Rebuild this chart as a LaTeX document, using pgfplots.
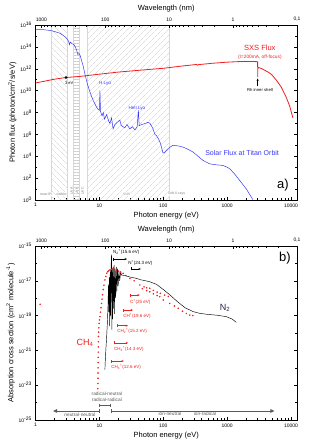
\documentclass[border=0pt]{standalone}
\usepackage{pgfplots}
\pgfplotsset{compat=1.18}
\usepackage{fontspec}
\setmainfont{Liberation Sans}
\usetikzlibrary{patterns.meta,arrows.meta}
\definecolor{sxsred}{RGB}{240,30,30}
\definecolor{solblue}{RGB}{55,55,245}
\definecolor{hatch}{RGB}{205,205,205}
\definecolor{bandline}{RGB}{215,215,215}
\definecolor{nnavy}{RGB}{30,35,80}
\definecolor{arrgray}{RGB}{90,90,90}
\newcommand{\fs}[1]{\fontsize{#1}{#1}\selectfont}
\begin{document}
\begin{tikzpicture}
\useasboundingbox (0pt,0pt) rectangle (313pt,445pt);
% ================= panel a =================
\begin{axis}[scale only axis, width=261.5pt, height=175pt, at={(35.5pt,245pt)}, anchor=south west,
    xmode=log, ymode=log, xmin=1, xmax=12398.4, ymin=1, ymax=1e16,
    xtick={1,10,100,1000,10000}, xticklabels={1,10,100,1000,10000},
    minor xtick={2,3,4,5,6,7,8,9,20,30,40,50,60,70,80,90,200,300,400,500,600,700,800,900,2000,3000,4000,5000,6000,7000,8000,9000},
    xtick pos=left, tick align=inside,
    major tick length=3pt, minor tick length=1.6pt,
    tick label style={font=\fs{5}}, label style={font=\fs{7.5}},
    xlabel={Photon energy (eV)}, xlabel style={yshift=2pt},
    axis line style={line width=0.7pt},
    every tick/.style={black, line width=0.5pt},
  ytick={1,1e2,1e4,1e6,1e8,1e10,1e12,1e14,1e16},
  yticklabels={10\textsuperscript{0},10\textsuperscript{2},10\textsuperscript{4},10\textsuperscript{6},10\textsuperscript{8},10\textsuperscript{10},10\textsuperscript{12},10\textsuperscript{14},10\textsuperscript{16}},
  minor ytick={1e1,1e3,1e5,1e7,1e9,1e11,1e13,1e15},
  ylabel={Photon flux (photon/cm\textsuperscript{2}/s/eV)},
  ylabel style={yshift=-3pt}]
% spectral bands
\addplot[draw=none, pattern={Lines[angle=-45,distance=4pt,line width=0.4pt]}, pattern color=hatch] coordinates {(1.7712,1) (1.7712,1e16) (3.0996,1e16) (3.0996,1)} -- cycle;
\addplot[draw=none, pattern={Lines[angle=0,distance=3pt,line width=0.4pt]}, pattern color=hatch] coordinates {(3.94,1) (3.94,1e16) (4.77,1e16) (4.77,1)} -- cycle;
\addplot[draw=none, pattern={Lines[angle=45,distance=4pt,line width=0.4pt]}, pattern color=hatch] coordinates {(6.53,1) (6.53,1e16) (124,1e16) (124,1)} -- cycle;
\addplot[bandline, line width=0.4pt] coordinates {(1.7712,1) (1.7712,1e16)};
\addplot[bandline, line width=0.4pt] coordinates {(3.0996,1) (3.0996,1e16)};
\addplot[bandline, line width=0.4pt] coordinates {(3.94,1) (3.94,1e16)};
\addplot[bandline, line width=0.4pt] coordinates {(4.77,1) (4.77,1e16)};
\addplot[bandline, line width=0.4pt] coordinates {(6.53,1) (6.53,1e16)};
\addplot[bandline, line width=0.4pt] coordinates {(124,1) (124,1e16)};
% solar flux at Titan orbit
\addplot[solblue, line width=0.5pt] coordinates {
(1,3.98e15) (1.3,3.8e15) (1.7,3.16e15) (2.0,2.51e15) (2.4,1.78e15) (2.8,1e15)
(3.1,5.6e14) (3.3,3.2e14) (3.4,1.6e14) (3.5,2.8e14) (3.7,2e14) (4.0,1.6e14)
(4.2,1e14) (4.4,5e13) (4.6,2e13) (4.8,2.5e13) (5.0,1.6e13) (5.3,5e12)
(5.6,1.6e12) (6.0,2.5e11) (6.5,4e10) (7.0,1e10) (7.5,3.2e9) (8.0,1.26e9)
(8.5,6.3e8) (9.0,3.2e8) (9.5,2e8) (10.0,1.6e8) (10.2,1e10) (10.4,1.26e8)
(11,5e7) (11.5,1e8) (12,2.5e7) (13,6.3e7) (14,1.6e7) (14.6,1e7)
(15.5,3.2e7) (16.4,3.2e6) (17.5,7.9e6) (19,1.26e7) (20.9,2e7) (22,6.3e6)
(25,4e6) (27,7.9e6) (30,3.2e6) (33,5e6) (36,2.5e6) (39,5e6)
(40.8,1.6e8) (42,6.3e6) (46,7.9e6) (52,1e7) (58,1.26e7) (62,1e7)
(68,4e6) (74,1e6) (78,7.9e5) (84,4e5) (90,1.6e5) (99,2e4)
(105,2.2e4) (112,3.5e4) (125,6.3e4) (142,1e5) (170,8.9e4) (204,6.9e4)
(250,4e4) (293,2.4e4) (350,1e4) (418,4.2e3) (535,2e3) (700,1.6e3)
(855,1.45e3) (1000,1e3) (1100,7.2e2) (1300,2.5e2) (1567,63) (2000,10) (2520,1.1)};
% SXS flux
\addplot[sxsred, line width=0.8pt] coordinates {
(1,5e10) (1.5,8e10) (2,1.12e11) (3,1.58e11) (5,2e11) (10,3.2e11) (20,5e11)
(50,7.9e11) (100,1.1e12) (200,1.8e12) (300,2.3e12) (330,2.5e12) (345,2.1e12)
(360,2.4e12) (600,3.2e12) (1000,4.0e12) (1500,4.5e12) (2000,4.6e12)
(2800,4.5e12) (3000,4.4e12) (3004,1.8e11) (3010,1.0e12) (3100,1.3e12)
(3500,1.0e12) (3900,7.1e11) (4500,4.5e11) (5000,2.8e11) (5900,8.9e10)
(7000,2.2e10) (8400,2.5e9) (9500,4e8) (10700,3.2e7)};
\addplot[only marks, mark=*, mark size=1.1pt, black] coordinates {(3,1.58e11)};
\node[font=\fs{4}] at (rel axis cs:0.129,0.670) {3 eV};
\draw[-{Stealth[length=2.5pt,width=2pt]}, black, line width=0.4pt] (axis cs:3004,2.5e10) -- (axis cs:3004,1.3e11);
\node[font=\fs{4.2}] at (rel axis cs:0.858,0.629) {Rh inner shell};
\node[font=\fs{7.5}, text=sxsred] at (rel axis cs:0.858,0.869) {SXS Flux};
\node[font=\fs{4.8}, text=sxsred] at (rel axis cs:0.858,0.817) {(I=200mA, off-focus)};
\node[font=\fs{7}, text=solblue] at (rel axis cs:0.790,0.269) {Solar Flux at Titan Orbit};
\node[font=\fs{4.5}, text=solblue] at (rel axis cs:0.266,0.669) {H Lyα};
\node[font=\fs{4.5}, text=solblue] at (rel axis cs:0.388,0.526) {HeII Lyα};
\node[font=\fs{13}] at (rel axis cs:0.946,0.086) {a)};
\node[font=\fs{3.5}, text=gray, fill=white, inner sep=0.5pt] at (rel axis cs:0.040,0.034) {near-IR};
\node[font=\fs{3.5}, text=gray, fill=white, inner sep=0.5pt] at (rel axis cs:0.098,0.034) {visible};
\node[font=\fs{3.5}, text=gray, rotate=90, fill=white, inner sep=0.3pt] at (rel axis cs:0.138,0.051) {UVA};
\node[font=\fs{3.5}, text=gray, rotate=90, fill=white, inner sep=0.3pt] at (rel axis cs:0.158,0.051) {UVB};
\node[font=\fs{3.5}, text=gray, rotate=90, fill=white, inner sep=0.3pt] at (rel axis cs:0.180,0.051) {UVC};
\node[font=\fs{3.5}, text=gray, fill=white, inner sep=0.5pt] at (rel axis cs:0.349,0.034) {VUV};
\node[font=\fs{3.5}, text=gray, fill=white, inner sep=0.5pt] at (rel axis cs:0.540,0.034) {soft X-rays};
\end{axis}
\begin{axis}[scale only axis, width=261.5pt, height=175pt, at={(35.5pt,245pt)}, anchor=south west,
    xmode=log, ymode=log, xmin=1, xmax=12398.4, ymin=1, ymax=10,
    axis x line*=top, axis y line=none, axis line style={-, line width=0.7pt},
    tick align=inside, major tick length=3pt, minor tick length=1.6pt,
    every tick/.style={black, line width=0.5pt},
    xtick={1.23984,12.3984,123.984,1239.84,12398.4},
    xticklabels={1000,100,10,1,{0,1}},
    minor xtick={1.3776,1.5498,1.7712,2.0664,2.4797,3.0996,4.1328,6.1992,13.776,15.498,17.712,20.664,24.797,30.996,41.328,61.992,137.76,154.98,177.12,206.64,247.97,309.96,413.28,619.92,1377.6,1549.8,1771.2,2066.4,2479.7,3099.6,4132.8,6199.2},
    tick label style={font=\fs{5}}, label style={font=\fs{7.5}},
    xlabel={Wavelength (nm)}, xlabel style={yshift=-2pt}]
\addplot[draw=none] coordinates {(2,2)};
\end{axis}
% ================= panel b =================
\begin{axis}[scale only axis, width=261.5pt, height=174pt, at={(35.5pt,25pt)}, anchor=south west,
    xmode=log, ymode=log, xmin=1, xmax=12398.4, ymin=1e-25, ymax=1e-15,
    xtick={1,10,100,1000,10000}, xticklabels={1,10,100,1000,10000},
    minor xtick={2,3,4,5,6,7,8,9,20,30,40,50,60,70,80,90,200,300,400,500,600,700,800,900,2000,3000,4000,5000,6000,7000,8000,9000},
    xtick pos=left, tick align=inside,
    major tick length=3pt, minor tick length=1.6pt,
    tick label style={font=\fs{5}}, label style={font=\fs{7.5}},
    xlabel={Photon energy (eV)}, xlabel style={yshift=2pt},
    axis line style={line width=0.7pt},
    every tick/.style={black, line width=0.5pt},
  ytick={1e-25,1e-23,1e-21,1e-19,1e-17,1e-15},
  yticklabels={10\textsuperscript{-25},10\textsuperscript{-23},10\textsuperscript{-21},10\textsuperscript{-19},10\textsuperscript{-17},10\textsuperscript{-15}},
  minor ytick={1e-24,1e-22,1e-20,1e-18,1e-16},
  ylabel={Absorption cross section (cm\textsuperscript{2} molecule\textsuperscript{-1})},
  ylabel style={yshift=-3pt}]
% N2
\addplot[black, line width=0.45pt] coordinates {
(12.2,7.94e-23) (12.4,3.16e-22) (12.7,1.58e-21) (13.0,6.31e-21) (13.3,3.16e-20)
(13.6,2.51e-19) (13.9,6.31e-18) (14.1,1.58e-19) (14.3,1.58e-17) (14.5,2.51e-20)
(14.8,3.98e-17) (15.0,1e-19) (15.3,1e-16) (15.5,3.16e-16) (15.7,1.58e-20)
(15.9,5.01e-17) (16.1,6.31e-20) (16.4,6.31e-17) (16.7,2.51e-19) (17.0,7.94e-17)
(17.3,1.26e-19) (17.6,5.01e-17) (18.0,1e-18) (18.4,6.31e-17) (18.8,2.51e-18)
(19.2,5.01e-17) (19.7,5.01e-18) (20.2,3.98e-17) (20.8,1e-17) (21.5,3.16e-17)
(22.2,2.14e-17) (25,2.0e-17) (30,1.66e-17) (38,1.38e-17) (44,1.15e-17) (50,1.05e-17)
(61,8.9e-18) (78,6.31e-18) (100,3.16e-18) (126,1.58e-18) (150,8.9e-19)
(180,5.01e-19) (220,2.82e-19) (293,1.7e-19) (372,1.35e-19) (500,1.17e-19)
(700,1.05e-19) (970,8.7e-20) (1200,6.31e-20) (1390,4.07e-20)};
% CH4
\addplot[only marks, mark=*, mark size=0.55pt, sxsred] coordinates {
(1.18,4.47e-19)
(9.45,6.31e-24) (9.48,1.26e-23) (9.5,2.51e-23) (9.52,5.01e-23) (9.54,1e-22)
(9.56,2e-22) (9.58,3.98e-22) (9.6,7.94e-22) (9.62,1.58e-21) (9.65,3.16e-21)
(9.68,6.31e-21) (9.72,1.12e-20) (9.8,2e-20) (9.9,3.55e-20) (10.0,5.62e-20)
(10.2,8.7e-20) (10.4,1.58e-19) (10.6,2.82e-19) (10.8,5.01e-19) (11.0,8.9e-19)
(11.2,1.58e-18) (11.5,3.16e-18) (11.8,5.62e-18) (12.2,1.12e-17) (12.6,1.78e-17)
(13.0,2.69e-17) (13.5,3.31e-17) (14.0,3.8e-17) (14.6,4.17e-17) (15.3,4.47e-17)
(16.0,4.68e-17) (17.0,4.47e-17) (18.6,4.17e-17) (20.0,3.55e-17) (21.5,3.16e-17)
(23.5,2.69e-17) (26,2e-17) (30,1.38e-17) (35,1e-17) (43,5.75e-18)
(50,4.47e-18) (55,3.98e-18) (61.5,3.72e-18) (70,2.82e-18) (80,2.24e-18)
(90,1.9e-18) (105,1.51e-18) (120,1.26e-18)
(47,3.5e-18) (55,2.7e-18) (61.5,2.34e-18) (70,1.78e-18) (80,1.41e-18)
(88,1.23e-18) (100,7.94e-19) (126,5.01e-19) (150,3.55e-19) (171,2.63e-19)
(200,1.78e-19) (230,1.32e-19) (260,1.07e-19) (290,1e-19)};
\node[font=\fs{9}, text=sxsred] at (rel axis cs:0.189,0.443) {CH\textsubscript{4}};
\node[font=\fs{9}, text=nnavy] at (rel axis cs:0.725,0.644) {N\textsubscript{2}};
\node[font=\fs{13}] at (rel axis cs:0.954,0.931) {b)};
% ionisation thresholds
\draw[black, line width=0.4pt, {Bar[width=3pt]}-{Stealth[length=2.5pt,width=2pt]}] (rel axis cs:0.296,0.925) -- (rel axis cs:0.350,0.925);
\node[font=\fs{4.5}, anchor=west, inner sep=0pt] at (rel axis cs:0.296,0.966) {N\textsubscript{2}\textsuperscript{+}(15.6 eV)};
\draw[black, line width=0.4pt, {Bar[width=3pt]}-{Stealth[length=2.5pt,width=2pt]}] (rel axis cs:0.365,0.868) -- (rel axis cs:0.403,0.868);
\node[font=\fs{4.5}, anchor=west, inner sep=0pt] at (rel axis cs:0.354,0.902) {N\textsuperscript{+}(24.3 eV)};
\draw[sxsred, line width=0.4pt, {Bar[width=3pt]}-{Stealth[length=2.5pt,width=2pt]}] (rel axis cs:0.361,0.718) -- (rel axis cs:0.399,0.718);
\node[font=\fs{4.5}, text=sxsred, anchor=west, inner sep=0pt] at (rel axis cs:0.361,0.680) {C\textsuperscript{+}(25 eV)};
\draw[sxsred, line width=0.4pt, {Bar[width=3pt]}-{Stealth[length=2.5pt,width=2pt]}] (rel axis cs:0.335,0.632) -- (rel axis cs:0.373,0.632);
\node[font=\fs{4.5}, text=sxsred, anchor=west, inner sep=0pt] at (rel axis cs:0.335,0.598) {CH\textsuperscript{+}(19.6 eV)};
\draw[sxsred, line width=0.4pt, {Bar[width=3pt]}-{Stealth[length=2.5pt,width=2pt]}] (rel axis cs:0.312,0.542) -- (rel axis cs:0.354,0.542);
\node[font=\fs{4.5}, text=sxsred, anchor=west, inner sep=0pt] at (rel axis cs:0.312,0.511) {CH\textsubscript{2}\textsuperscript{+}(15.2 eV)};
\draw[sxsred, line width=0.4pt, {Bar[width=3pt]}-{Stealth[length=2.5pt,width=2pt]}] (rel axis cs:0.300,0.443) -- (rel axis cs:0.354,0.443);
\node[font=\fs{4.5}, text=sxsred, anchor=west, inner sep=0pt] at (rel axis cs:0.300,0.408) {CH\textsubscript{3}\textsuperscript{+}(14.3 eV)};
\draw[sxsred, line width=0.4pt, {Bar[width=3pt]}-{Stealth[length=2.5pt,width=2pt]}] (rel axis cs:0.289,0.339) -- (rel axis cs:0.338,0.339);
\node[font=\fs{4.5}, text=sxsred, anchor=west, inner sep=0pt] at (rel axis cs:0.289,0.306) {CH\textsubscript{4}\textsuperscript{+}(12.6 eV)};
% reaction regimes
\draw[arrgray, line width=0.8pt, {Bar[width=4pt]}-{Triangle[length=4pt,width=3.5pt]}] (axis cs:10,3.3e-25) -- (axis cs:1.88,3.3e-25);
\draw[arrgray, line width=0.8pt, {Bar[width=4pt]}-{Triangle[length=4pt,width=3.5pt]}] (axis cs:15.1,3.3e-25) -- (axis cs:5500,3.3e-25);
\draw[arrgray, line width=0.7pt, {Bar[width=3pt]}-{Bar[width=3pt]}] (axis cs:10,7.2e-25) -- (axis cs:15.1,7.2e-25);
\node[font=\fs{4.8}, text=arrgray] at (rel axis cs:0.170,0.030) {neutral-neutral};
\node[font=\fs{4.8}, text=arrgray] at (rel axis cs:0.273,0.150) {radical-neutral};
\node[font=\fs{4.8}, text=arrgray] at (rel axis cs:0.273,0.116) {radical-radical};
\node[font=\fs{4.8}, text=arrgray] at (rel axis cs:0.514,0.036) {ion-neutral};
\node[font=\fs{4.8}, text=arrgray] at (rel axis cs:0.648,0.036) {ion-radical};
\end{axis}
\begin{axis}[scale only axis, width=261.5pt, height=174pt, at={(35.5pt,25pt)}, anchor=south west,
    xmode=log, ymode=log, xmin=1, xmax=12398.4, ymin=1, ymax=10,
    axis x line*=top, axis y line=none, axis line style={-, line width=0.7pt},
    tick align=inside, major tick length=3pt, minor tick length=1.6pt,
    every tick/.style={black, line width=0.5pt},
    xtick={1.23984,12.3984,123.984,1239.84,12398.4},
    xticklabels={1000,100,10,1,{0,1}},
    minor xtick={1.3776,1.5498,1.7712,2.0664,2.4797,3.0996,4.1328,6.1992,13.776,15.498,17.712,20.664,24.797,30.996,41.328,61.992,137.76,154.98,177.12,206.64,247.97,309.96,413.28,619.92,1377.6,1549.8,1771.2,2066.4,2479.7,3099.6,4132.8,6199.2},
    tick label style={font=\fs{5}}, label style={font=\fs{7.5}},
    xlabel={Wavelength (nm)}, xlabel style={yshift=-2pt}]
\addplot[draw=none] coordinates {(2,2)};
\end{axis}
\end{tikzpicture}
\end{document}
